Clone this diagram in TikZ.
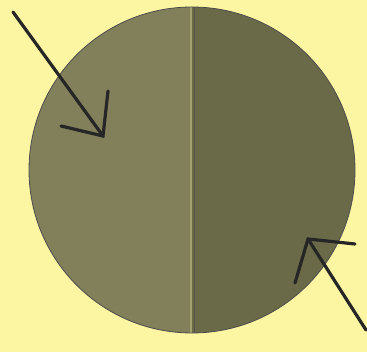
\documentclass[tikz,border=0pt]{standalone}
\begin{document}
\begin{tikzpicture}[x=1pt,y=-1pt,
  arrowline/.style={draw=black!85,line width=3.2pt,line cap=round,line join=miter}]
\definecolor{bgyellow}{HTML}{FCF5A2}
\definecolor{leftolive}{HTML}{82805A}
\definecolor{rightolive}{HTML}{6B6A48}
\definecolor{divlight}{HTML}{A3A16E}
\definecolor{divdark}{HTML}{55564A}
\useasboundingbox (0,0) rectangle (367,352);
\fill[bgyellow] (0,0) rectangle (367,352);
\coordinate (c) at (192,170);
\begin{scope}
  \clip (c) circle[radius=163];
  \fill[leftolive] (20,0) rectangle (192,352);
  \fill[rightolive] (192,0) rectangle (360,352);
  \draw[divlight,line width=1.2pt] (191,0) -- (191,352);
  \draw[divdark,line width=1.6pt] (194.5,0) -- (194.5,352);
\end{scope}
\draw[black!70,line width=0.8pt] (c) circle[radius=163];
% arrow 1
\coordinate (a1s) at (13,12);
\coordinate (a1t) at (103,136);
\coordinate (a1l) at (108,91);
\coordinate (a1r) at (61,126);
\draw[arrowline] (a1s) -- (a1t);
\draw[arrowline] (a1l) -- (a1t) -- (a1r);
% arrow 2
\coordinate (a2s) at (366,330);
\coordinate (a2t) at (308,239);
\coordinate (a2l) at (355,244);
\coordinate (a2r) at (295,283);
\draw[arrowline] (a2s) -- (a2t);
\draw[arrowline] (a2l) -- (a2t) -- (a2r);
\end{tikzpicture}
\end{document}
